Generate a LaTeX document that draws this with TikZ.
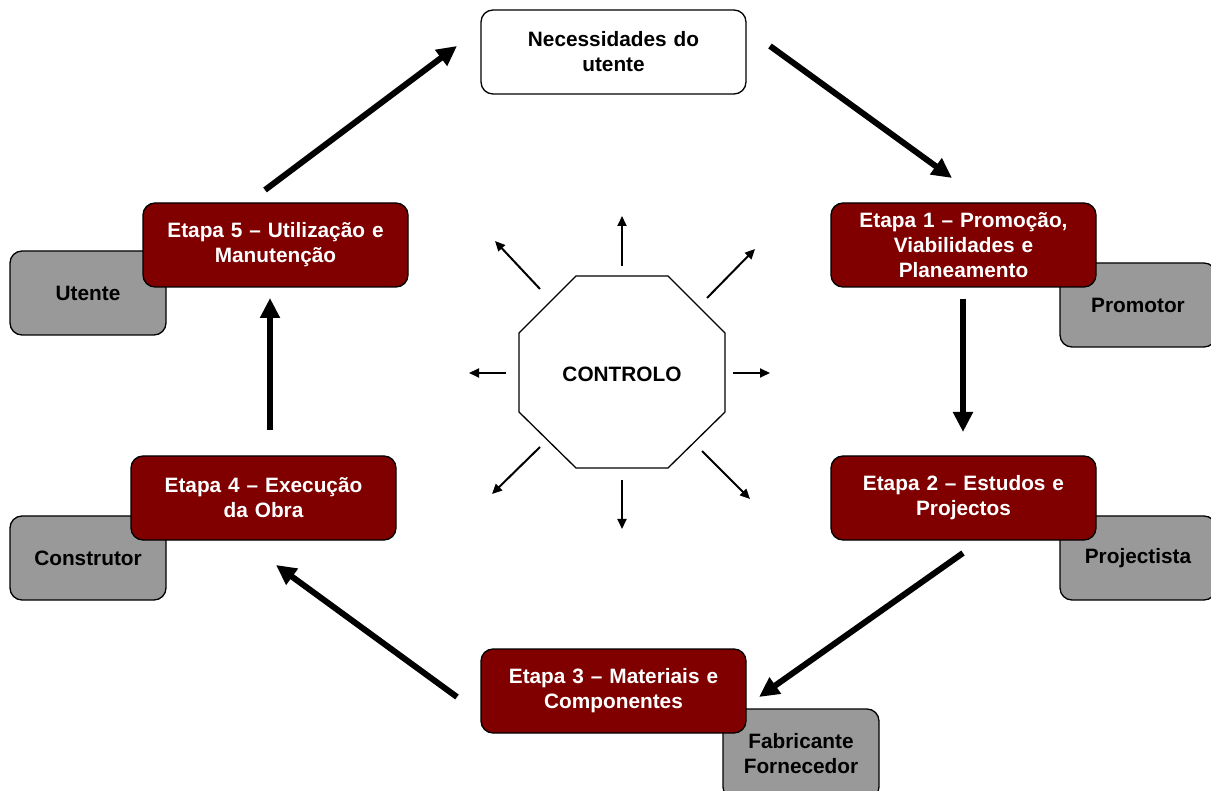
\documentclass[tikz,border=0pt]{standalone}
\usepackage{fontspec}
\setmainfont{Liberation Sans}
\usetikzlibrary{arrows.meta,calc}
\definecolor{stagered}{HTML}{800000}
\definecolor{actorgray}{HTML}{999999}
\begin{document}
\begin{tikzpicture}[x=1pt,y=-1pt,
  box/.style={draw=black,line width=1.3pt,rounded corners=12pt,
    minimum width=265pt,minimum height=84pt,inner sep=0pt,align=center,
    text width=255pt,font=\fontsize{20.8}{25}\selectfont\bfseries},
  stage/.style={box,fill=stagered,text=white},
  actor/.style={box,fill=actorgray,text=black,minimum width=156pt,text width=150pt},
  bigarrow/.style={line width=6pt,-{Triangle[length=20pt,width=19pt]}},
  ctrlarrow/.style={line width=2pt,-{Triangle[length=10pt,width=9pt]}}]
\useasboundingbox (0,0) rectangle (1211,791);

% actors (drawn first so the stage boxes overlap them)
\node[actor] (promotor)    at (1138,305) {Promotor};
\node[actor] (projectista) at (1138,558) {Projectista};
\node[actor,minimum height=90pt] (fabricante) at (801,754) {Fabricante\\Fornecedor};
\node[actor] (construtor)  at (88,558)  {Construtor};
\node[actor] (utente)      at (88,293)  {Utente};

% cycle of stages
\node[box,fill=white] (needs) at (613.5,52) {Necessidades do\\utente};
\node[stage] (e1) at (963.5,245) {Etapa 1 -- Promoção,\\Viabilidades e\\Planeamento};
\node[stage] (e2) at (963.5,498) {Etapa 2 -- Estudos e\\Projectos};
\node[stage] (e3) at (613.5,691) {Etapa 3 -- Materiais e\\Componentes};
\node[stage] (e4) at (263.5,498) {Etapa 4 -- Execução\\da Obra};
\node[stage] (e5) at (275.5,245) {Etapa 5 -- Utilização e\\Manutenção};

% arrow end points between the stages
\coordinate (a1s) at (265,190); \coordinate (a1e) at (457,46);
\coordinate (a2s) at (770,46);  \coordinate (a2e) at (952,178);
\coordinate (a3s) at (963,299); \coordinate (a3e) at (963,432);
\coordinate (a4s) at (963,553); \coordinate (a4e) at (759,697);
\coordinate (a5s) at (457,697); \coordinate (a5e) at (276,565);
\coordinate (a6s) at (270,430); \coordinate (a6e) at (270,298);

\draw[bigarrow] (a1s) -- (a1e);
\draw[bigarrow] (a2s) -- (a2e);
\draw[bigarrow] (a3s) -- (a3e);
\draw[bigarrow] (a4s) -- (a4e);
\draw[bigarrow] (a5s) -- (a5e);
\draw[bigarrow] (a6s) -- (a6e);

% control octagon
\draw[line width=1.3pt,fill=white]
  (576,276) -- (668,276) -- (725,333) -- (725,412) -- (668,468)
  -- (576,468) -- (519,412) -- (519,333) -- cycle;
\node[font=\fontsize{20.8}{25}\selectfont\bfseries] (ctrl) at (622,374) {CONTROLO};

% radiating control arrows
\foreach \sx/\sy/\ex/\ey in {
   0/-108/0/-158,
   85/-76/133/-125,
   111/-1/148/-1,
   80/77/128/125,
   0/106/0/155,
   -82/73/-130/120,
   -116/-1/-153/-1,
   -82/-85/-127/-133}
  \draw[ctrlarrow] ($(ctrl)+(\sx,\sy)$) -- ($(ctrl)+(\ex,\ey)$);
\end{tikzpicture}
\end{document}
